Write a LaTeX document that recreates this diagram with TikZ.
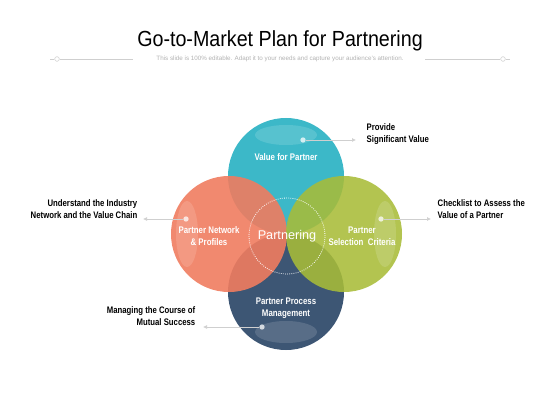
\documentclass[tikz,border=0pt]{standalone}
\usepackage{fontspec}
\setmainfont{Liberation Sans}
\newfontfamily\narrowfont[FakeStretch=0.82]{Liberation Sans}
\newfontfamily\titlefont[FakeStretch=0.9]{Liberation Sans}
\usetikzlibrary{arrows.meta}
\definecolor{cteal}{HTML}{3CB8C8}
\definecolor{corange}{HTML}{F07C5F}
\definecolor{cgreen}{HTML}{A8BC38}
\definecolor{cnavy}{HTML}{3D5674}
\definecolor{cline}{HTML}{CFCFCF}
\tikzset{
  petal/.style={circle, minimum size=87pt, inner sep=0pt},
  inlabel/.style={text=white, font=\narrowfont\bfseries\fontsize{7.2}{9}\selectfont, align=center},
  outlabel/.style={text=black, font=\narrowfont\bfseries\fontsize{7.1}{8.8}\selectfont},
  dot/.style={circle, fill=white, fill opacity=0.75, minimum size=4pt, inner sep=0pt},
  pointer/.style={draw=cline, line width=0.5pt, -{Latex[length=3pt,width=3pt]}},
  shine/.style={fill=white, fill opacity=0.14, draw=none}
}
\begin{document}
\begin{tikzpicture}[x=0.75pt, y=-0.75pt]
\useasboundingbox (0,0) rectangle (560,420);
% header
\node[font=\titlefont\fontsize{16.4}{19}\selectfont] (title) at (280,41) {Go-to-Market Plan for Partnering};
\node[text=black!30, font=\fontsize{4.7}{5.5}\selectfont] (sub) at (280,59) {This slide is 100\% editable. Adapt it to your needs and capture your audience's attention.};
\node[circle, draw=cline, minimum size=3.5pt, inner sep=0pt] (hl) at (57,59) {};
\node[circle, draw=cline, minimum size=3.5pt, inner sep=0pt] (hr) at (503,59) {};
\draw[cline, line width=0.4pt] (hl) -- (133,59);
\draw[cline, line width=0.4pt] (hr) -- (425,59);
\draw[cline, line width=0.4pt] (hl.west) -- ++(-4,0);
\draw[cline, line width=0.4pt] (hr.east) -- ++(4,0);
% circles
\node[petal, fill=cteal] (value) at (286,176) {};
\node[petal, fill=cnavy] (process) at (286,292) {};
\node[petal, fill=corange, fill opacity=0.9] (network) at (229,234) {};
\node[petal, fill=cgreen, fill opacity=0.88] (selection) at (344,234) {};
% highlights
\fill[shine] (286,135) ellipse [x radius=31, y radius=10];
\fill[shine] (187,234) ellipse [x radius=11, y radius=33];
\fill[shine] (385,234) ellipse [x radius=11, y radius=33];
\fill[shine] (286,332) ellipse [x radius=31, y radius=11];
% centre
\node[circle, draw=white, densely dotted, line width=0.6pt, minimum size=57pt] (core) at (287,236) {};
\node[text=white, font=\fontsize{9.5}{11}\selectfont] (corelabel) at (287,236) {Partnering};
% labels
\node[inlabel] (tval) at (286,157) {Value for Partner};
\node[inlabel] (tnet) at (209,236) {Partner Network\\\& Profiles};
\node[inlabel] (tsel) at (362,236) {Partner\\Selection\ \ Criteria};
\node[inlabel] (tpro) at (286,308) {Partner Process\\Management};
% pointers
\node[dot] (d1) at (303,140) {};
\node[dot] (d2) at (186,219) {};
\node[dot] (d3) at (381,219) {};
\node[dot] (d4) at (262,327) {};
\coordinate (e1) at (356,140);
\coordinate (e2) at (143,219);
\coordinate (e3) at (431,219);
\coordinate (e4) at (203,327);
\draw[pointer] (d1) -- (e1);
\draw[pointer] (d2) -- (e2);
\draw[pointer] (d3) -- (e3);
\draw[pointer] (d4) -- (e4);
\node[outlabel, anchor=west, align=left] (o1) at (362,134) {Provide\\Significant Value};
\node[outlabel, anchor=east, align=right] (o2) at (142,209) {Understand the Industry\\Network and the Value Chain};
\node[outlabel, anchor=west, align=left] (o3) at (433,209) {Checklist to Assess the\\Value of a Partner};
\node[outlabel, anchor=east, align=right] (o4) at (200,316) {Managing the Course of\\Mutual Success};
\end{tikzpicture}
\end{document}
